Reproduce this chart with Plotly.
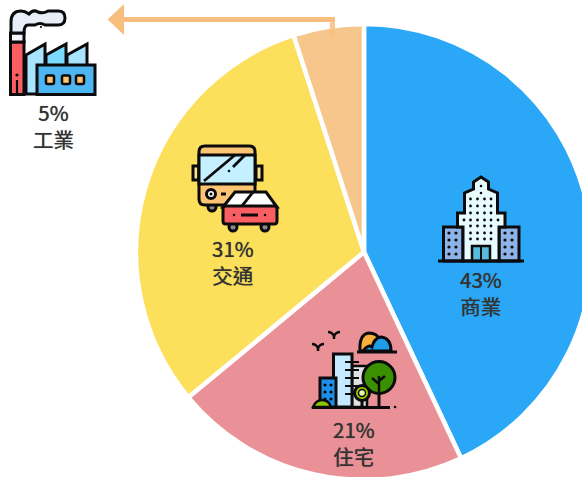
import re
import plotly.graph_objects as go

categories = ["商業", "住宅", "交通", "工業"]
values = [43, 21, 31, 5]
colors = ["#2AA8F7", "#EA9198", "#FCDF5A", "#F7C68C"]

W, H = 600, 490
INK = "#0B0B0D"
shapes = []


def conv(path):
    toks = re.findall(r"[A-Za-z]|-?[\d.]+", path)
    out, i = [], 0
    for t in toks:
        if t.isalpha():
            out.append(t)
            i = 0
        else:
            v = float(t)
            out.append(f"{v / W:.5f}" if i % 2 == 0 else f"{1 - v / H:.5f}")
            i += 1
    return " ".join(out)


def P(path, fill="rgba(0,0,0,0)", lw=3, color=INK, opacity=1):
    shapes.append(dict(type="path", xref="paper", yref="paper", path=conv(path),
                       fillcolor=fill, opacity=opacity,
                       line=dict(color=color, width=lw)))


def R(x0, y0, x1, y1, fill, lw=3, color=INK, opacity=1):
    P(f"M{x0},{y0} L{x1},{y0} L{x1},{y1} L{x0},{y1} Z", fill, lw, color, opacity)


def RR(x0, y0, x1, y1, r, fill, lw=3):
    P(f"M{x0+r},{y0} L{x1-r},{y0} Q{x1},{y0} {x1},{y0+r} L{x1},{y1-r} Q{x1},{y1} {x1-r},{y1} "
      f"L{x0+r},{y1} Q{x0},{y1} {x0},{y1-r} L{x0},{y0+r} Q{x0},{y0} {x0+r},{y0} Z", fill, lw)


def C(cx, cy, r, fill, lw=3, color=INK):
    shapes.append(dict(type="circle", xref="paper", yref="paper",
                       x0=(cx - r) / W, x1=(cx + r) / W,
                       y0=1 - (cy + r) / H, y1=1 - (cy - r) / H,
                       fillcolor=fill, line=dict(color=color, width=lw)))


def D(cx, cy, r=1.3, color=INK):
    C(cx, cy, r, color, 0, color)


# ---------- arrow ----------
ARROW = "#F8BE7F"
R(123, 17, 335, 22, ARROW, 0, ARROW)
R(330, 17, 335, 38, ARROW, 0, ARROW, 0.85)
P("M107.5,19.5 L124,4 L124,35 Z", ARROW, 0, ARROW)

# ---------- factory ----------
P("M26,55 L45,44 L45,94 L26,94 Z", "#A9E4FF")
P("M46,55 L66,44 L66,66 L46,66 Z", "#7ADBFF")
P("M67,55 L87,44 L87,66 L67,66 Z", "#A9E4FF")
R(37, 65, 95, 94.5, "#4DB5F0")
for x in (46, 62, 76):
    RR(x, 75.5, x + 8, 84, 1.5, "#FDC473", 2.5)
R(10.5, 42, 24, 94.5, "#F95F62")
R(10.5, 33, 24, 42, "#F3F6FB")
P("M11,33 L11,22 Q11,11 21,11 Q25,11 29,14 Q33,9 38,12 Q43,14 48,11 L58,11 Q65,11 65,18 "
  "Q65,25 58,25 L45,25 Q40,22 35,25 L28,25 Q24,25 24,33 Z", "#E8EEF8")
D(17, 75, 1.6)
P("M17,80 L17,94", lw=2.2)
D(41, 27, 1.1)

# ---------- bus + car ----------
R(193, 166, 199, 180, "#FDE08A", 3)
R(256, 166, 262, 180, "#FDE08A", 3)
C(212, 207, 4, "#8A8A8A")
RR(199, 146, 255, 205, 6, "#FDC473")
R(199, 155, 255, 184, "#C5F0FF", 3)
P("M204,181 L235,155", lw=2.8)
P("M233,167 L245,155", lw=2.8)
D(229, 171, 1.3)
C(211, 194, 4.5, "#FFFFFF", 3)
D(211, 194, 1.5)
P("M221,194 L226,194", lw=3)
C(233, 227, 4, "#8A8A8A")
C(265, 227, 4, "#8A8A8A")
P("M223,207 L235,192 L266,192 L277,207 Z", "#FFFFFF")
P("M241,207 L253,192", lw=2.8)
RR(223, 206, 277, 224, 3, "#F95F62")
P("M241,215 L258,215", lw=3)
D(234, 215, 1.3)
D(265, 215, 1.3)

# ---------- office tower ----------
P("M443.5,227 L463,227 L463,261 L443.5,261 Z", "#8DB2E8")
P("M499,227 L519,227 L519,261 L499,261 Z", "#8DB2E8")
P("M463,261 L463,227 L457.5,227 L457.5,213 L464.5,213 L464.5,193 L473.5,189 L473.5,182 L481,177 "
  "L488.5,182 L488.5,189 L497.5,193 L497.5,213 L505,213 L505,227 L499,227 L499,261 Z", "#E8FBFF")
R(472, 246, 490, 261, "#58BCDD", 2.5)
P("M481,246 L481,261", lw=2)
P("M438,261 L524,261", lw=3)
D(481, 186, 1.3)
D(481, 193, 1.3)
for y in (199, 206, 213, 220, 226, 233, 239):
    for x in (470.5, 477.5, 484.5, 491):
        D(x, y, 1.4)
for x in (464, 498):
    D(x, 220, 1.4)
for x0 in (449, 456, 505, 512):
    for y in (233, 240, 247, 254):
        D(x0, y, 1.6)

# ---------- city ----------
R(352, 366, 367, 407, "#E2E2E2", 2.5)
R(333.5, 354, 352, 407, "#C5EAFF", 3)
for y in (362, 370, 378, 386, 394):
    P(f"M345,{y} L352,{y}", lw=2)
    P(f"M353,{y} L359,{y}", lw=2)
R(320, 378, 336, 407, "#1E8FE8", 3)
for x in (325, 331):
    for y in (385, 392, 399):
        D(x, y, 1.6)
P("M313,407 Q316,400 322,400 Q329,400 331,407 Z", "#8CC800", 2.5)
P("M379,407 L379,385", lw=3)
C(379, 377.5, 16, "#3A9000")
P("M379,392 L379,376 M379,384 L372,378 M379,381 L385,376", lw=2.5)
C(362, 393, 7.5, "#9ACD00")
C(362, 393, 3.5, "#E8F7A0", 1.5)
P("M362,400 L362,407", lw=3)
P("M312,407.5 L390,407.5", lw=3)
D(395, 407, 1.3)
P("M328,332 Q332,332 334,336 Q336,332 340,332", lw=2.5)
P("M334,336 L334,339", lw=2.5)
P("M312,344 Q316,344 318,348 Q320,344 324,344", lw=2.5)
P("M318,348 L318,351", lw=2.5)
P("M360,351 Q359,334 369,333 Q377,333 380,340 L375,351 Z", "#FBB03B")
P("M363,351 Q368,344 372,347 Q374,338 381,337 Q391,338 391,351 Z", "#1E9CE8")
P("M357,352 L397,352", lw=3)


# ---------- labels ----------
def label(i, x, y):
    ann.append(dict(x=x / W, y=1 - y / H, xref="paper", yref="paper",
                    text=f"{values[i]}%<br>{categories[i]}",
                    showarrow=False, xanchor="center", yanchor="middle", align="center",
                    font=dict(size=20.5, color="#333333", family="Noto Sans CJK TC",
                              shadow="0 0 0.7px #333333")))


ann = []
label(0, 481, 292)
label(1, 354, 442)
label(2, 233, 261)
label(3, 53, 126)

fig = go.Figure(go.Pie(
    labels=categories, values=values, sort=False, direction="clockwise", rotation=0,
    textinfo="none", hoverinfo="label+percent",
    marker=dict(colors=colors, line=dict(color="#FFFFFF", width=4.5)),
    domain=dict(x=[136 / W, 592 / W], y=[1 - 480 / H, 1 - 24 / H]),
))
fig.update_layout(width=W, height=H, margin=dict(l=0, r=0, t=0, b=0), showlegend=False,
                  paper_bgcolor="#FFFFFF", shapes=shapes, annotations=ann,
                  font=dict(family="Noto Sans CJK TC"))
fig.write_html("out.html", config=dict(displayModeBar=False),
               post_script="document.documentElement.style.overflow='hidden';"
                           "document.body.style.overflow='hidden';document.body.style.margin='0';")
